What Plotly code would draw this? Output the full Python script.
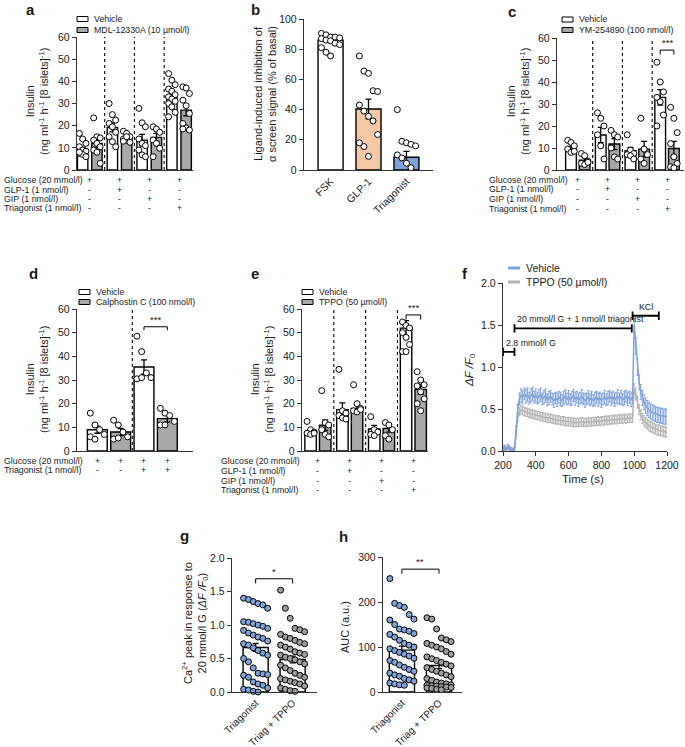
import plotly.graph_objects as go

W, H = 685, 747
FONT = "Liberation Sans, Arial, sans-serif"
AX = "#333333"
TXT = "#1a1a1a"
GREY = "#a8a8a8"
BLUE = "#7fa2d9"
PEACH = "#f5c8a8"
LGREY = "#b3b3b3"

# ---------------- data ----------------
# panel a
a_groups = [0, 1, 2, 3]
a_veh_mean = [9.0, 19.2, 13.5, 33.0]
a_veh_err = [1.2, 2.0, 2.6, 1.8]
a_mdl_mean = [12.0, 13.8, 14.7, 27.0]
a_mdl_err = [1.8, 1.0, 1.8, 2.6]
a_veh_pts = [[16.5, 14, 12, 10.5, 9, 8.5, 7.5, 7, 6, 8],
             [30, 25, 22.5, 21, 19.5, 17, 15, 12.8, 10.5],
             [27.8, 21.3, 19.5, 14, 12, 11, 9, 6.8, 6],
             [43.5, 40.5, 38.5, 36.5, 35.5, 34, 33, 32, 31, 30, 28.5, 26, 24]]
a_mdl_pts = [[23.5, 15, 14.5, 13.5, 12, 10.5, 9, 8, 3],
             [17.5, 16.5, 15, 14, 13.5, 12.5, 13, 15],
             [19.5, 18.5, 17, 13.5, 12, 9.8, 6],
             [37.5, 37, 34.5, 31.5, 29, 25.5, 21, 19, 18, 18.5]]
a_legend = ["Vehicle", "MDL-12330A (10 µmol/l)"]

# shared row design for a, c, e
row_labels4 = ["Glucose (20 mmol/l)", "GLP-1 (1 nmol/l)", "GIP (1 nmol/l)", "Triagonist (1 nmol/l)"]
row_signs4 = [["+", "+", "+", "+"], ["-", "+", "-", "-"], ["-", "-", "+", "-"], ["-", "-", "-", "+"]]

# panel b
b_cats = ["FSK", "GLP-1", "Triagonist"]
b_mean = [86.0, 40.4, 8.4]
b_err = [1.3, 6.5, 4.0]
b_pts = [[90.5, 89.5, 88, 88, 87.5, 87, 86, 85.5, 84, 83, 81, 78, 75.5],
         [75.5, 65.5, 64, 52.5, 52, 43, 39, 35.5, 32.5, 23.5, 18, 15.5, 9],
         [40, 19, 18, 17, 16, 10, 8, 4.5, 1.5]]
b_colors = ["white", PEACH, BLUE]

# panel c
c_veh_mean = [9.5, 15.9, 8.8, 33.0]
c_veh_err = [1.0, 3.5, 1.5, 3.5]
c_ym_mean = [4.5, 11.8, 9.5, 9.8]
c_ym_err = [1.0, 2.5, 3.5, 3.2]
c_veh_pts = [[13.5, 12.5, 11, 9.5, 8, 8.5],
             [26, 23.5, 20, 16, 11, 5],
             [16, 9, 7.5, 7, 6.5, 5],
             [49, 40, 35.5, 33, 31, 25, 20]]
c_ym_pts = [[7.5, 6.5, 4, 3, 2.5, 3.5],
            [18, 16, 15, 10, 6, 5],
            [23.5, 9.5, 7, 5, 3],
            [28.5, 23.5, 17, 12, 6, 3, 1.5, 1]]
c_legend = ["Vehicle", "YM-254890 (100 nmol/l)"]

# panel d
d_pos = [0, 1, 2, 3]
d_veh_mean = [9.0, 35.5]
d_veh_err = [1.5, 3.0]
d_cal_mean = [8.0, 13.7]
d_cal_err = [1.5, 1.5]
d_veh_pts = [[16, 11, 9, 7, 6, 5], [48.5, 42, 33, 31, 30.5, 31]]
d_cal_pts = [[13, 11, 8, 6, 5, 5.5], [18, 16, 15, 12.5, 11, 11]]
d_legend = ["Vehicle", "Calphostin C (100 nmol/l)"]
d_row_labels = ["Glucose (20 mmol/l)", "Triagonist (1 nmol/l)"]
d_row_signs = [["+", "+", "+", "+"], ["-", "-", "+", "+"]]

# panel e
e_veh_mean = [8.0, 17.5, 9.3, 51.9]
e_veh_err = [1.0, 2.8, 1.5, 3.2]
e_tppo_mean = [10.9, 18.0, 9.5, 26.0]
e_tppo_err = [2.2, 1.5, 1.5, 2.0]
e_veh_pts = [[12.5, 9, 8, 7.5, 7, 7.5],
             [34.5, 17, 16, 15, 14, 13.5],
             [14.5, 9, 8, 7, 6.5],
             [54.5, 53, 52, 50, 48, 45, 42, 42]]
e_tppo_pts = [[25.5, 12, 11, 9, 7, 6],
              [28, 20, 18, 17, 16.5, 17.5],
              [12, 11, 9, 6.5, 5],
              [33.5, 30, 28, 27.5, 25, 22, 20, 17]]
e_legend = ["Vehicle", "TPPO (50 µmol/l)"]

# panel f (time course, 10 s steps from 200 to 1200 s)
f_time = list(range(200, 1201, 10))
f_veh = [0.03, 0.04, 0.02, 0.05, 0.03, 0.01, 0.00, 0.02, 0.25, 0.50,
         0.62, 0.66, 0.64, 0.68, 0.65, 0.67, 0.63, 0.66, 0.68, 0.64,
         0.66, 0.63, 0.65, 0.67, 0.62, 0.64, 0.66, 0.61, 0.63, 0.65,
         0.62, 0.60, 0.63, 0.61, 0.64, 0.62, 0.60, 0.63, 0.65, 0.62,
         0.64, 0.61, 0.63, 0.66, 0.62, 0.64, 0.61, 0.63, 0.65, 0.62,
         0.60, 0.62, 0.64, 0.61, 0.63, 0.60, 0.62, 0.64, 0.61, 0.63,
         0.60, 0.62, 0.64, 0.61, 0.63, 0.65, 0.62, 0.64, 0.61, 0.63,
         0.65, 0.62, 0.64, 0.61, 0.63, 0.65, 0.62, 0.64, 0.61, 0.63,
         1.50, 1.25, 1.00, 0.82, 0.70, 0.63, 0.58, 0.54, 0.51, 0.49,
         0.47, 0.46, 0.45, 0.44, 0.43, 0.43, 0.42, 0.42, 0.41, 0.41,
         0.41]
f_veh_err = [0.03, 0.03, 0.03, 0.03, 0.03, 0.03, 0.03, 0.03, 0.05, 0.06,
             0.07, 0.08, 0.08, 0.07, 0.08, 0.08, 0.07, 0.08, 0.08, 0.07,
             0.08, 0.07, 0.08, 0.08, 0.07, 0.08, 0.08, 0.07, 0.08, 0.07,
             0.07, 0.08, 0.07, 0.08, 0.07, 0.08, 0.07, 0.08, 0.08, 0.07,
             0.08, 0.07, 0.08, 0.07, 0.08, 0.07, 0.08, 0.07, 0.08, 0.07,
             0.08, 0.07, 0.08, 0.07, 0.08, 0.07, 0.08, 0.07, 0.08, 0.07,
             0.08, 0.07, 0.08, 0.07, 0.08, 0.07, 0.08, 0.07, 0.08, 0.07,
             0.08, 0.07, 0.08, 0.07, 0.08, 0.07, 0.08, 0.07, 0.08, 0.07,
             0.08, 0.10, 0.10, 0.09, 0.09, 0.09, 0.09, 0.09, 0.09, 0.09,
             0.09, 0.09, 0.09, 0.09, 0.09, 0.09, 0.09, 0.09, 0.09, 0.09,
             0.09]
f_tppo = [0.02, 0.03, 0.01, 0.04, 0.02, 0.00, 0.00, 0.02, 0.20, 0.40,
          0.47, 0.49, 0.48, 0.47, 0.46, 0.46, 0.45, 0.44, 0.44, 0.43,
          0.43, 0.42, 0.42, 0.41, 0.41, 0.40, 0.40, 0.39, 0.39, 0.39,
          0.38, 0.38, 0.37, 0.37, 0.37, 0.36, 0.36, 0.36, 0.35, 0.35,
          0.35, 0.35, 0.34, 0.34, 0.34, 0.34, 0.34, 0.34, 0.35, 0.34,
          0.34, 0.34, 0.35, 0.34, 0.35, 0.35, 0.35, 0.35, 0.36, 0.35,
          0.36, 0.36, 0.36, 0.37, 0.36, 0.37, 0.37, 0.37, 0.38, 0.37,
          0.38, 0.38, 0.38, 0.38, 0.39, 0.38, 0.39, 0.39, 0.39, 0.39,
          0.74, 0.68, 0.58, 0.49, 0.43, 0.39, 0.36, 0.34, 0.32, 0.30,
          0.29, 0.28, 0.27, 0.26, 0.25, 0.25, 0.24, 0.24, 0.23, 0.23,
          0.22]
f_tppo_err = [0.02, 0.02, 0.02, 0.02, 0.02, 0.02, 0.02, 0.02, 0.04, 0.05,
              0.05, 0.05, 0.05, 0.05, 0.05, 0.05, 0.05, 0.05, 0.05, 0.05,
              0.05, 0.05, 0.05, 0.05, 0.05, 0.05, 0.05, 0.05, 0.05, 0.05,
              0.05, 0.05, 0.05, 0.05, 0.05, 0.05, 0.05, 0.05, 0.05, 0.05,
              0.05, 0.05, 0.05, 0.05, 0.05, 0.05, 0.05, 0.05, 0.05, 0.05,
              0.05, 0.05, 0.05, 0.05, 0.05, 0.05, 0.05, 0.05, 0.05, 0.05,
              0.05, 0.05, 0.05, 0.05, 0.05, 0.05, 0.05, 0.05, 0.05, 0.05,
              0.05, 0.05, 0.05, 0.05, 0.05, 0.05, 0.05, 0.05, 0.05, 0.05,
              0.06, 0.07, 0.07, 0.06, 0.06, 0.06, 0.06, 0.06, 0.06, 0.06,
              0.06, 0.06, 0.06, 0.06, 0.06, 0.06, 0.06, 0.06, 0.06, 0.06,
              0.06]
f_legend = ["Vehicle", "TPPO (50 µmol/l)"]
f_periods = [(200, 270, 1.18, "2.8 mmol/l G"),
             (270, 985, 1.46, "20 mmol/l G + 1 nmol/l triagonist"),
             (990, 1150, 1.61, "KCl")]

# panel g
gh_cats = ["Triagonist", "Triag + TPPO"]
g_mean = [0.665, 0.486]
g_err = [0.06, 0.05]
g_tri = [1.40, 1.38, 1.35, 1.32, 1.30, 1.25, 1.05, 1.04, 1.02, 1.00, 0.98, 0.95, 0.92, 0.88,
         0.85, 0.82, 0.80, 0.76, 0.72, 0.70, 0.66, 0.62, 0.58, 0.55, 0.50, 0.45, 0.36, 0.28,
         0.27, 0.26, 0.25, 0.22, 0.15, 0.12, 0.10, 0.06, 0.04, 0.03, 0.01, 0.00]
g_tppo = [1.52, 1.25, 1.10, 0.95, 0.93, 0.90, 0.86, 0.82, 0.80, 0.77, 0.74, 0.72, 0.70, 0.67,
          0.64, 0.60, 0.58, 0.56, 0.55, 0.52, 0.50, 0.48, 0.45, 0.42, 0.40, 0.36, 0.32, 0.28,
          0.25, 0.22, 0.20, 0.18, 0.16, 0.14, 0.12, 0.09, 0.06, 0.04, 0.02, 0.01]

# panel h
h_mean = [93.0, 59.0]
h_err = [9.0, 7.0]
h_tri = [252, 197, 192, 188, 172, 162, 160, 150, 140, 138, 135, 130, 128, 122, 115, 108, 104,
         100, 96, 92, 88, 84, 80, 75, 70, 66, 60, 55, 50, 46, 42, 38, 35, 30, 27, 24, 20, 18, 16, 15]
h_tppo = [165, 162, 140, 120, 116, 112, 108, 104, 100, 96, 90, 84, 78, 74, 70, 66, 62, 58, 54,
          50, 46, 42, 38, 34, 30, 26, 22, 20, 18, 16, 15, 14, 13, 12, 11, 10, 9, 8, 6, 5]

# ---------------- figure ----------------
fig = go.Figure()
ann = []
shp = []
layout = dict(width=W, height=H, margin=dict(l=0, r=0, t=0, b=0, autoexpand=False), showlegend=False,
              paper_bgcolor="white", plot_bgcolor="rgba(0,0,0,0)", barmode="overlay",
              font=dict(family=FONT, size=10, color=TXT))

TICKFONT = 10.5
ROWFONT = 8.8


def sfx(k):
    return "" if k == 1 else str(k)


def px(x):
    return x / W


def py(y):
    return 1 - y / H


def axes(k, l, r, t, b, xrange, yrange, ytickvals, yfmt=None, xkw=None):
    s = sfx(k)
    base = dict(showline=True, linecolor=AX, linewidth=1.4, showgrid=False, zeroline=False,
                ticks="outside", ticklen=4, tickwidth=1.2, tickcolor=AX, automargin=False,
                tickfont=dict(size=TICKFONT, color=TXT, family=FONT), fixedrange=True)
    xa = dict(base, domain=[px(l), px(r)], range=xrange, anchor="y" + s)
    if xkw:
        xa.update(xkw)
    ya = dict(base, domain=[py(b), py(t)], range=yrange, anchor="x" + s, tickvals=ytickvals)
    if yfmt:
        ya["tickformat"] = yfmt
    layout["xaxis" + s] = xa
    layout["yaxis" + s] = ya


def bars(k, xs, means, errs, color, width):
    s = sfx(k)
    fig.add_trace(go.Bar(x=xs, y=means, width=width,
                         marker=dict(color=color, line=dict(color="black", width=1.4)),
                         error_y=dict(type="data", array=errs, color="black", thickness=1.3, width=3),
                         xaxis="x" + s, yaxis="y" + s, hoverinfo="skip"))


def dots(k, cx, vals, step, ncol, fill="white", size=6):
    s = sfx(k)
    xs = [cx + ((i % ncol) - (ncol - 1) / 2) * step for i in range(len(vals))]
    fig.add_trace(go.Scatter(x=xs, y=vals, mode="markers", cliponaxis=False,
                             marker=dict(size=size, color=fill, line=dict(color="black", width=1)),
                             xaxis="x" + s, yaxis="y" + s, hoverinfo="skip"))


def text(xp, yp, s, size=ROWFONT, xanchor="left", yanchor="middle", angle=0, bold=False):
    ann.append(dict(x=px(xp), y=py(yp), xref="paper", yref="paper", text=("<b>%s</b>" % s) if bold else s,
                    showarrow=False, xanchor=xanchor, yanchor=yanchor, textangle=angle,
                    font=dict(size=size, family=FONT, color=TXT)))


def data_text(k, x, yp, s, size=ROWFONT):
    ann.append(dict(x=x, y=py(yp), xref="x" + sfx(k), yref="paper", text=s, showarrow=False,
                    xanchor="center", yanchor="middle", font=dict(size=size, family=FONT, color=TXT)))


def bracket(k, x0, x1, y, drop, label, size=9.5):
    s = sfx(k)
    shp.append(dict(type="path", xref="x" + s, yref="y" + s,
                    path=f"M {x0},{y - drop} L {x0},{y} L {x1},{y} L {x1},{y - drop}",
                    line=dict(color="black", width=1)))
    ann.append(dict(x=(x0 + x1) / 2, y=y, xref="x" + s, yref="y" + s, text=label, showarrow=False,
                    xanchor="center", yanchor="bottom", font=dict(size=size, family=FONT, color=TXT)))


def separators(k, xs, ytop):
    s = sfx(k)
    for x in xs:
        shp.append(dict(type="line", xref="x" + s, yref="y" + s, x0=x, x1=x, y0=0, y1=ytop,
                        line=dict(color="black", width=1.1, dash="dot")))


def legend_boxes(x0, ys, labels, fills):
    for yy, lab, fc in zip(ys, labels, fills):
        shp.append(dict(type="rect", xref="paper", yref="paper", x0=px(x0), x1=px(x0 + 11),
                        y0=py(yy + 2.5), y1=py(yy - 2.5), fillcolor=fc, line=dict(color="black", width=1)))
        text(x0 + 15, yy, lab, size=ROWFONT)


def rows(k, label_x, ys, labels, signs, positions):
    for yy, lab, sg in zip(ys, labels, signs):
        text(label_x, yy, lab, size=ROWFONT)
        for xpos, sym in zip(positions, sg):
            data_text(k, xpos, yy, sym, size=ROWFONT)


def ytitle(xp, yp, s, size=11):
    text(xp, yp, s, size=size, xanchor="center", yanchor="middle", angle=-90)


INS = "Insulin<br>(ng ml<sup>-1</sup> h<sup>-1</sup> [8 islets]<sup>-1</sup>)"
TICKS60 = [0, 10, 20, 30, 40, 50, 60]
NOX = dict(ticks="", showticklabels=False)
OFF = 0.24

# ---- panel a ----
axes(1, 77, 193, 37, 170, [-0.43, 3.47], [0, 60], TICKS60, xkw=NOX)
bars(1, [g - OFF for g in a_groups], a_veh_mean, a_veh_err, "white", 0.35)
bars(1, [g + OFF for g in a_groups], a_mdl_mean, a_mdl_err, GREY, 0.35)
for g in a_groups:
    dots(1, g - OFF, a_veh_pts[g], 0.11, 3)
    dots(1, g + OFF, a_mdl_pts[g], 0.11, 3)
separators(1, [0.5, 1.5, 2.5], 60)
legend_boxes(77, [19, 30], a_legend, ["white", GREY])
rows(1, 2, [180, 189.5, 199, 208.5], row_labels4, row_signs4, a_groups)
ytitle(37, 102, INS)
text(30, 10, "a", size=15, xanchor="center", bold=True)

# ---- panel b ----
axes(2, 304, 433, 19, 170, [-0.7, 2.7], [0, 100], [0, 20, 40, 60, 80, 100],
     xkw=dict(ticks="", tickangle=-45, tickvals=[0, 1, 2], ticktext=b_cats))
for i in range(3):
    bars(2, [i], [b_mean[i]], [b_err[i]], b_colors[i], 0.66)
for i in range(3):
    dots(2, i, b_pts[i], 0.12, 5)
ytitle(265, 94, "Ligand-induced inhibition of<br>α screen signal (% of basal)")
text(255, 10, "b", size=15, xanchor="center", bold=True)

# ---- panel c ----
axes(3, 557, 684, 38, 170, [-0.7, 3.57], [0, 60], TICKS60, xkw=NOX)
bars(3, [g - 0.23 for g in a_groups], c_veh_mean, c_veh_err, "white", 0.36)
bars(3, [g + 0.23 for g in a_groups], c_ym_mean, c_ym_err, GREY, 0.36)
for g in a_groups:
    dots(3, g - 0.23, c_veh_pts[g], 0.11, 3)
    dots(3, g + 0.23, c_ym_pts[g], 0.11, 3)
separators(3, [0.5, 1.5, 2.5], 60)
bracket(3, 3 - 0.23, 3 + 0.23, 54.5, 2, "***")
legend_boxes(562, [19.5, 30], c_legend, ["white", GREY])
rows(3, 487, [179.5, 189, 199, 209], row_labels4, row_signs4, a_groups)
ytitle(518, 102, INS)
text(512, 12, "c", size=15, xanchor="center", bold=True)

# ---- panel d ----
axes(4, 77, 193, 309, 451, [-0.87, 4.1], [0, 60], TICKS60, xkw=NOX)
bars(4, [0, 2], d_veh_mean, d_veh_err, "white", 0.85)
bars(4, [1, 3], d_cal_mean, d_cal_err, GREY, 0.85)
for i, x in enumerate([0, 2]):
    dots(4, x, d_veh_pts[i], 0.2, 4)
for i, x in enumerate([1, 3]):
    dots(4, x, d_cal_pts[i], 0.2, 4)
separators(4, [1.5], 60)
bracket(4, 2, 3, 52.5, 1.5, "***")
legend_boxes(79, [292, 302], d_legend, ["white", GREY])
rows(4, 2, [461, 470], d_row_labels, d_row_signs, d_pos)
ytitle(37, 380, INS)
text(33, 273, "d", size=15, xanchor="center", bold=True)

# ---- panel e ----
axes(5, 302, 428, 309, 451, [-0.5, 3.46], [0, 60], TICKS60, xkw=NOX)
bars(5, [g - 0.23 for g in a_groups], e_veh_mean, e_veh_err, "white", 0.36)
bars(5, [g + 0.23 for g in a_groups], e_tppo_mean, e_tppo_err, GREY, 0.36)
for g in a_groups:
    dots(5, g - 0.23, e_veh_pts[g], 0.11, 3)
    dots(5, g + 0.23, e_tppo_pts[g], 0.11, 3)
separators(5, [0.5, 1.5, 2.5], 60)
bracket(5, 3 - 0.23, 3 + 0.23, 57.5, 2, "***")
legend_boxes(302, [292, 302], e_legend, ["white", GREY])
rows(5, 219, [461, 471, 481, 490], row_labels4, row_signs4, a_groups)
ytitle(262, 380, INS)
text(255, 273, "e", size=15, xanchor="center", bold=True)

# ---- panel f ----
axes(6, 503, 667, 283, 451, [200, 1200], [0, 2], [0, 0.5, 1.0, 1.5, 2.0], yfmt=".1f",
     xkw=dict(tickvals=[200, 400, 600, 800, 1000, 1200]))
fig.add_trace(go.Scatter(x=f_time, y=f_tppo, mode="lines", line=dict(color=LGREY, width=1.5),
                         error_y=dict(type="data", array=f_tppo_err, color=LGREY, thickness=1, width=1.2),
                         xaxis="x6", yaxis="y6", hoverinfo="skip"))
fig.add_trace(go.Scatter(x=f_time, y=f_veh, mode="lines", line=dict(color=BLUE, width=1.5),
                         error_y=dict(type="data", array=f_veh_err, color=BLUE, thickness=1, width=1.2),
                         xaxis="x6", yaxis="y6", hoverinfo="skip"))
for x0, x1, yb, lab in f_periods:
    d = 0.05
    shp.append(dict(type="path", xref="x6", yref="y6",
                    path=f"M {x0},{yb - d} L {x0},{yb + d} M {x0},{yb} L {x1},{yb} M {x1},{yb - d} L {x1},{yb + d}",
                    line=dict(color="black", width=1.8)))
ann.append(dict(x=205, y=1.29, xref="x6", yref="y6", text=f_periods[0][3], showarrow=False,
                xanchor="left", yanchor="middle", font=dict(size=ROWFONT, family=FONT, color=TXT)))
ann.append(dict(x=275, y=1.57, xref="x6", yref="y6", text=f_periods[1][3], showarrow=False,
                xanchor="left", yanchor="middle", font=dict(size=ROWFONT, family=FONT, color=TXT)))
ann.append(dict(x=1070, y=1.71, xref="x6", yref="y6", text=f_periods[2][3], showarrow=False,
                xanchor="center", yanchor="middle", font=dict(size=ROWFONT, family=FONT, color=TXT)))
for yy, lab, col in zip([268, 282], f_legend, [BLUE, LGREY]):
    shp.append(dict(type="line", xref="paper", yref="paper", x0=px(508), x1=px(520), y0=py(yy), y1=py(yy),
                    line=dict(color=col, width=3)))
    text(524, yy, lab, size=10.5)
ytitle(470, 370, "<i>ΔF /F</i><sub>0</sub>", size=11.5)
text(583, 479, "Time (s)", size=11.5, xanchor="center")
text(465, 273, "f", size=15, xanchor="center", bold=True)

# ---- panel g ----
GHX = dict(ticks="", tickangle=-45, tickvals=[0, 1], ticktext=gh_cats,
           tickfont=dict(size=10, color=TXT, family=FONT))
axes(7, 232, 317, 558, 692, [-0.64, 1.66], [0, 2], [0, 0.5, 1.0, 1.5, 2.0], yfmt=".1f", xkw=GHX)
bars(7, [0, 1], g_mean, g_err, "white", 0.68)
dots(7, 0, g_tri, 0.13, 6, fill=BLUE, size=6)
dots(7, 1, g_tppo, 0.13, 6, fill="#9e9e9e", size=6)
bracket(7, 0, 1, 1.69, 0.07, "*")
ytitle(195, 623, "Ca<sup>2+</sup> peak in response to<br>20 mmol/l G (<i>ΔF /F</i><sub>0</sub>)")
text(184, 535, "g", size=15, xanchor="center", bold=True)

# ---- panel h ----
axes(8, 383, 462, 557, 692, [-0.51, 1.62], [0, 300], [0, 100, 200, 300], xkw=GHX)
bars(8, [0, 1], h_mean, h_err, "white", 0.68)
dots(8, 0, h_tri, 0.13, 6, fill=BLUE, size=6)
dots(8, 1, h_tppo, 0.13, 6, fill="#9e9e9e", size=6)
bracket(8, 0, 1, 273, 10, "**")
ytitle(345, 627, "AUC (a.u.)")
text(343, 536, "h", size=15, xanchor="center", bold=True)

layout["annotations"] = ann
layout["shapes"] = shp
fig.update_layout(**layout)
fig.write_html("out.html",
               post_script="document.body.style.margin='0px';document.body.style.padding='0px';"
                           "document.documentElement.style.overflow='hidden';")
